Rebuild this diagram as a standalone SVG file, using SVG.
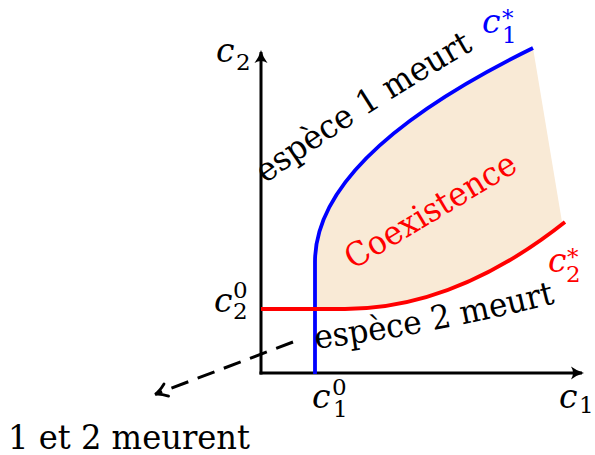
<svg xmlns="http://www.w3.org/2000/svg" width="595" height="455" viewBox="0 0 595 455">
  <style>
    .lbl { font-family: "DejaVu Serif", serif; font-size: 33px; }
    .m { font-family: "DejaVu Serif", serif; font-style: italic; font-size: 33px; }
    .s { font-style: normal; font-size: 23px; }
    .axis { stroke: #000; stroke-width: 3; fill: none; }
  </style>
  <defs>
    <marker id="ax" markerUnits="userSpaceOnUse" markerWidth="30" markerHeight="30" viewBox="-15 -15 30 30" refX="0" refY="0" orient="auto" overflow="visible">
      <path d="M 2,0 Q -5,-2 -11,-6.5 Q -7,0 -11,6.5 Q -5,2 2,0 Z" fill="#000" stroke="none"/>
    </marker>
    <marker id="to" markerUnits="userSpaceOnUse" markerWidth="30" markerHeight="30" viewBox="-15 -15 30 30" refX="0" refY="0" orient="auto" overflow="visible">
      <path d="M -11,-6.5 Q -4,-1 1,0 Q -4,1 -11,6.5" fill="none" stroke="#000" stroke-width="2.8" stroke-dasharray="none" stroke-linecap="round"/>
    </marker>
    <path id="p1" d="M 262,186 Q 365,112 480,46"/>
    <path id="p2" d="M 314,349 Q 430,335 560,302"/>
  </defs>

  <g id="region">
    <path d="M 315,309 L 315,262 Q 315,155 533,48 L 562,222 Q 455,309 345,309 Z" fill="#F9EAD6" stroke="none"/>
  </g>

  <g id="connectors">
    <line class="axis" x1="261" y1="374.5" x2="261" y2="52" marker-end="url(#ax)"/>
    <line class="axis" x1="259.5" y1="373" x2="582" y2="373" marker-end="url(#ax)"/>
    <line x1="293" y1="342" x2="156" y2="394" stroke="#000" stroke-width="3" stroke-dasharray="18 10" marker-end="url(#to)"/>
  </g>

  <g id="blue-curve">
    <path d="M 315,374 L 315,262 Q 315,155 533,48" fill="none" stroke="#0000FF" stroke-width="3.8"/>
  </g>
  <g id="red-curve">
    <path d="M 261,309 L 345,309 Q 455,309 565,222" fill="none" stroke="#FF0000" stroke-width="3.8"/>
  </g>

  <g id="labels">
    <text class="lbl"><textPath href="#p1" startOffset="4" textLength="248" lengthAdjust="spacingAndGlyphs">espèce 1 meurt</textPath></text>
    <text class="lbl"><textPath href="#p2" startOffset="2" textLength="244" lengthAdjust="spacingAndGlyphs">espèce 2 meurt</textPath></text>
    <text class="lbl" fill="#FF0000" x="353" y="270" transform="rotate(-31 353 270)" textLength="194" lengthAdjust="spacingAndGlyphs">Coexistence</text>
    <text class="lbl" x="8" y="449" textLength="242" lengthAdjust="spacingAndGlyphs">1 et 2 meurent</text>
  </g>

  <g id="math">
    <text class="m" x="216" y="62">c<tspan class="s" x="236" y="70">2</tspan></text>
    <text class="m" x="214" y="312">c<tspan class="s" x="233" y="298">0</tspan><tspan class="s" x="233" y="319">2</tspan></text>
    <text class="m" x="312" y="408">c<tspan class="s" x="332" y="395">0</tspan><tspan class="s" x="333" y="417">1</tspan></text>
    <text class="m" x="559" y="408">c<tspan class="s" x="579" y="413">1</tspan></text>
    <text class="m" fill="#0000FF" x="482" y="33">c<tspan class="s" x="502" y="26">*</tspan><tspan class="s" x="502" y="43">1</tspan></text>
    <text class="m" fill="#FF0000" x="548" y="272">c<tspan class="s" x="567" y="265">*</tspan><tspan class="s" x="566" y="282">2</tspan></text>
  </g>
</svg>
